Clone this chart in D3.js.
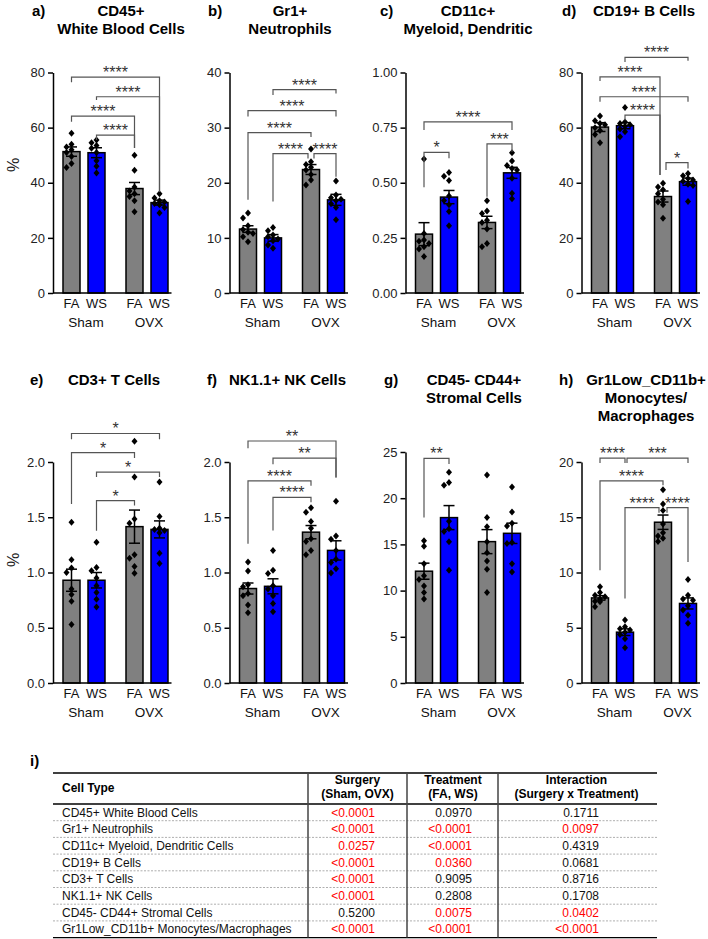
<!DOCTYPE html>
<html><head><meta charset="utf-8">
<script src="https://cdn.jsdelivr.net/npm/d3@7"></script>
<style>
body{margin:0;background:#fff}
svg{display:block}
text{font-family:"Liberation Sans",Arial,Helvetica,sans-serif}
</style>
</head><body><svg id="c" width="708" height="939"></svg>
<script>
// ---------------- DATA ----------------
const panelLabels = ["a)","b)","c)","d)","e)","f)","g)","h)"];
const panelTitles = [["CD45+","White Blood Cells"],["Gr1+","Neutrophils"],["CD11c+","Myeloid, Dendritic"],["CD19+ B Cells"],
                     ["CD3+ T Cells"],["NK1.1+ NK Cells"],["CD45- CD44+","Stromal Cells"],["Gr1Low_CD11b+","Monocytes/","Macrophages"]];
const treatments = ["FA","WS","FA","WS"];
const surgeries = ["Sham","OVX"];
const yMax = [80,40,1,80,2,2,25,20];
const yTicks = [[0,20,40,60,80],[0,10,20,30,40],[0,0.25,0.5,0.75,1],[0,20,40,60,80],
                [0,0.5,1,1.5,2],[0,0.5,1,1.5,2],[0,5,10,15,20,25],[0,5,10,15,20]];
const tickFormats = ["d","d",".2f","d",".1f",".1f","d","d"];

const means = [[51.3,50.9,37.9,32.8],[11.6,10.0,22.4,16.9],[0.267,0.435,0.32,0.545],[60.2,60.7,35.0,40.4],
               [0.93,0.93,1.415,1.39],[0.855,0.875,1.365,1.2],[12.1,17.9,15.3,16.2],[7.7,4.6,14.55,7.2]];
const sems  = [[1.7,1.8,2.2,0.9],[0.6,0.6,0.9,1.0],[0.052,0.03,0.028,0.025],[1.6,1.1,2.0,1.3],
               [0.1,0.07,0.15,0.077],[0.05,0.068,0.06,0.087],[0.87,1.3,1.3,1.1],[0.2,0.3,0.65,0.5]];

const cd45Points = [[58,54,53,52,51,49.5,47,45.5],[55.5,54.5,53.5,52.5,51,48,46,43.5],[50,44.5,38.5,37,36,35,33.5,29.5],[36,34.5,33.5,33,32.5,32,31,29]];
const gr1Points = [[14.5,13.6,12.2,11.5,11,10.8,10.2,9.3],[11.9,11.3,10.5,10.2,9.8,9.5,8.7,8.1],[26.1,23.8,23.3,22.8,22.3,21.5,20.5,19.6],[20.3,17.8,17.3,17,16.8,16.2,15.5,13.3]];
const cd11cPoints = [[0.608,0.27,0.24,0.235,0.225,0.21,0.2,0.165],[0.547,0.53,0.51,0.44,0.42,0.4,0.37,0.305],[0.418,0.372,0.36,0.33,0.32,0.29,0.225,0.21],[0.636,0.599,0.578,0.565,0.558,0.52,0.452,0.427]];
const cd19Points = [[64.2,62.5,61.5,61,60,59,57.5,54.5],[67.3,62,61.5,61,60.5,59.5,58.5,56.7],[39.8,38.5,37.5,36,34,33,32,27.1],[43.4,42.5,41.5,41,40.5,39.5,39,33.2]];
const cd3Points = [[1.455,1.115,1.04,1.0,0.85,0.8,0.74,0.53],[1.273,1.045,1.015,0.95,0.88,0.82,0.757,0.687],[2.187,1.864,1.485,1.445,1.16,1.13,1.055,0.994],[1.818,1.506,1.4,1.39,1.38,1.36,1.175,1.082]];
const nkPoints = [[1.095,1.014,0.89,0.87,0.81,0.79,0.705,0.635],[1.2,1.02,0.99,0.88,0.85,0.79,0.72,0.644],[1.585,1.545,1.461,1.4,1.305,1.28,1.2,1.161],[1.644,1.33,1.3,1.2,1.12,1.09,1.035,0.995]];
const stromalPoints = [[15.4,14.8,12.9,11.6,11.2,10.5,9.8,9.08],[22.8,21.7,21.4,17.5,16.7,16.4,15.3,12.2],[22.5,17.9,16.9,15.3,14.1,13.2,12.3,9.8],[21.2,18.5,17.3,17,15.2,15.1,12.9,12]];
const monoPoints = [[8.7,8.2,7.95,7.8,7.6,7.4,7.35,6.9],[5.7,5.1,4.9,4.8,4.6,4.4,4.0,3.2],[17.5,16.2,15.6,14.4,13.6,13.3,13.1,12.8],[9.37,7.95,7.6,7.5,7.0,6.6,6.14,5.4]];
const allPoints = [cd45Points,gr1Points,cd11cPoints,cd19Points,cd3Points,nkPoints,stromalPoints,monoPoints];

// brackets: [from, to, level, leg end at from, leg end at to, stars, nudge from, nudge to]
const brackets = [
 [[0,3,78.3,76.5,36.7,"****"],[1,3,71.2,70.0,36.7,"****"],[0,2,64.2,62.1,52.6,"****"],[1,2,57.3,55.5,52.6,"****"]],
 [[1,3,36.9,35.9,36.2,"****"],[0,3,33.1,32.0,32.0,"****"],[0,2,29.1,16.9,28.3,"****"],[1,2,25.3,16.6,24.4,"****",0,-3],[2,3,25.3,24.4,21.1,"****",3,0]],
 [[0,3,0.776,0.739,0.739,"****"],[0,1,0.638,0.48,0.611,"*"],[2,3,0.676,0.437,0.641,"***"]],
 [[1,3,85.5,83.8,84.3,"****"],[0,2,78.4,76.9,42.8,"****",0,-3],[0,3,71.2,69.4,69.4,"****"],[1,2,64.5,62.7,42.8,"****",0,-3],[2,3,47.3,44.6,45.2,"*",3,0]],
 [[0,3,2.258,2.205,2.205,"*"],[0,2,2.085,1.62,2.036,"*"],[1,3,1.909,1.864,1.864,"*"],[1,2,1.65,1.378,1.606,"*"]],
 [[0,3,2.19,2.125,1.86,"**"],[1,3,2.035,1.98,1.86,"**"],[0,2,1.83,1.26,1.786,"****"],[1,2,1.68,1.38,1.635,"****"]],
 [[0,1,24.3,17.9,23.7,"**"]],
 [[0,1,20.35,19.9,19.9,"****"],[1,3,20.35,19.9,19.9,"***",2,0],[0,2,18.3,10.2,17.9,"****"],[1,2,15.87,7.65,15.4,"****",0,-4],[2,3,15.87,15.4,10.96,"****",4,0]]
];

const tableLabel = "i)";
const tableHeaders = [["Cell Type"],["Surgery","(Sham, OVX)"],["Treatment","(FA, WS)"],["Interaction","(Surgery x Treatment)"]];
const cellTypes = ["CD45+ White Blood Cells","Gr1+ Neutrophils","CD11c+ Myeloid, Dendritic Cells","CD19+ B Cells","CD3+ T Cells","NK1.1+ NK Cells","CD45- CD44+ Stromal Cells","Gr1Low_CD11b+ Monocytes/Macrophages"];
const surgeryP = ["<0.0001","<0.0001","0.0257","<0.0001","<0.0001","<0.0001","0.5200","<0.0001"];
const treatmentP = ["0.0970","<0.0001","<0.0001","0.0360","0.9095","0.2808","0.0075","<0.0001"];
const interactionP = ["0.1711","0.0097","0.4319","0.0681","0.8716","0.1708","0.0402","<0.0001"];

// ---------------- LAYOUT ----------------
const svg = d3.select("#c");
const axisX = [53, 229.5, 405.5, 581.5];
const rows = [{zero:293, top:72.5, titleY:16, xl:308, sl:327, pct:165},
              {zero:683, top:462, titleY:385, xl:698, sl:717, pct:560}];
const titleDx = [68, 60.5, 62.5, 62.5, 61, 58, 68.5, 64.5];
const labelX = [32, 208, 380, 562, 30, 207, 384, 559];
const groupPos = [0, 1, 2.52, 3.52];
const colors = ["#808080","#0000ff","#808080","#0000ff"];
const diamond = "M0,-3.5L3,0L0,3.5L-3,0Z";

function swarm(vals, y) {
  const placed = [];
  return vals.map(v => {
    const py = y(v);
    const cands = [0,-5,5,-9,9];
    let dx = 0;
    for (const c of cands) {
      if (!placed.some(p => Math.abs(p.y-py) < 5 && Math.abs(p.x-c) < 5)) { dx = c; break; }
    }
    placed.push({x:dx, y:py});
    return {v, dx};
  });
}

for (let p = 0; p < 8; p++) {
  const col = p % 4, r = rows[Math.floor(p/4)];
  const x0 = axisX[col];
  const g = svg.append("g");
  const y = d3.scaleLinear().domain([0, yMax[p]]).range([r.zero, p === 6 ? 452 : r.top]);
  const x = d3.scaleLinear().domain([0, 3.52]).range([x0 + 18.5, x0 + 106.5]);

  // y axis
  const ax = g.append("g").attr("transform", `translate(${x0},0)`)
    .call(d3.axisLeft(y).tickValues(yTicks[p]).tickSize(5).tickSizeOuter(0).tickPadding(3).tickFormat(d3.format(tickFormats[p])));
  ax.select(".domain").attr("stroke","#000").attr("stroke-width",1.5);
  ax.selectAll(".tick line").attr("stroke","#000").attr("stroke-width",1.5);
  ax.selectAll(".tick text").attr("fill","#222").style("font-size","13px").style("font-family","Liberation Sans, Arial, sans-serif");

  // bars
  g.selectAll("rect.bar").data(means[p]).join("rect")
    .attr("x",(d,i)=>x(groupPos[i])-8.5).attr("width",17)
    .attr("y",d=>y(d)).attr("height",d=>y(0)-y(d))
    .attr("fill",(d,i)=>colors[i]).attr("stroke","#000").attr("stroke-width",1.5);

  // points
  allPoints[p].forEach((vals,i) => {
    swarm(vals, y).forEach(pt => {
      g.append("path").attr("d",diamond)
        .attr("transform",`translate(${x(groupPos[i])+pt.dx},${y(pt.v)})`).attr("fill","#000");
    });
  });

  // error bars
  means[p].forEach((m,i) => {
    const cx = x(groupPos[i]), s = sems[p][i];
    const eg = g.append("g").attr("stroke","#000").attr("stroke-width",1.5);
    eg.append("line").attr("x1",cx).attr("x2",cx).attr("y1",y(m-s)).attr("y2",y(m+s));
    eg.append("line").attr("x1",cx-5.5).attr("x2",cx+5.5).attr("y1",y(m-s)).attr("y2",y(m-s));
    eg.append("line").attr("x1",cx-5.5).attr("x2",cx+5.5).attr("y1",y(m+s)).attr("y2",y(m+s));
  });

  // x axis baseline
  g.append("line").attr("x1",x0).attr("x2",x(groupPos[3])+12).attr("y1",y(0)).attr("y2",y(0))
    .attr("stroke","#000").attr("stroke-width",1.5);

  // x labels
  treatments.forEach((t,i) => {
    g.append("text").attr("x",x(groupPos[i])).attr("y",r.xl).attr("text-anchor","middle")
      .style("font-size","13px").attr("fill","#111").text(t);
  });
  surgeries.forEach((s,k) => {
    g.append("text").attr("x",(x(groupPos[2*k])+x(groupPos[2*k+1]))/2+2).attr("y",r.sl).attr("text-anchor","middle")
      .style("font-size","13.5px").attr("fill","#111").text(s);
  });

  // brackets
  brackets[p].forEach(b => {
    const [i,j,lvl,la,lb,stars,na=0,nb=0] = b;
    const xa = x(groupPos[i]) + na, xb = x(groupPos[j]) + nb;
    g.append("path").attr("d",`M${xa},${y(la)}V${y(lvl)}H${xb}V${y(lb)}`)
      .attr("fill","none").attr("stroke","#555").attr("stroke-width",1.2);
    g.append("text").attr("x",(xa+xb)/2).attr("y",y(lvl)+1).attr("text-anchor","middle")
      .style("font-size","16px").attr("fill","#333").text(stars);
  });

  // titles
  const t = g.append("text").attr("x",x0+titleDx[p]).attr("y",r.titleY).attr("text-anchor","middle")
    .style("font-size","15px").style("font-weight","bold").attr("fill","#000");
  panelTitles[p].forEach((line,k)=> t.append("tspan").attr("x",x0+titleDx[p]).attr("dy",k?18:0).text(line));
  g.append("text").attr("x",labelX[p]).attr("y",r.titleY).style("font-size","15px").style("font-weight","bold").text(panelLabels[p]);

  if (col === 0) {
    g.append("text").attr("transform",`translate(19,${r.pct}) rotate(-90)`).attr("text-anchor","middle")
      .style("font-size","16px").attr("fill","#222").text("%");
  }
}

// ---------------- TABLE ----------------
const T = {left:53, right:657, top:773, head:804, rowH:16.7, cols:[308,407,498], valRight:[375,472,599], textX:62};
const tg = svg.append("g");
tg.append("text").attr("x",30).attr("y",766).style("font-size","15px").style("font-weight","bold").text(tableLabel);
const bottom = T.head + 8*T.rowH;
tg.append("line").attr("x1",T.left).attr("x2",T.right).attr("y1",T.top).attr("y2",T.top).attr("stroke","#000").attr("stroke-width",1.3);
tg.append("line").attr("x1",T.left).attr("x2",T.right).attr("y1",T.head).attr("y2",T.head).attr("stroke","#000").attr("stroke-width",1.3);
tg.append("line").attr("x1",T.left).attr("x2",T.right).attr("y1",bottom).attr("y2",bottom).attr("stroke","#000").attr("stroke-width",1.3);
for (let k=1;k<8;k++){
  const yy = T.head + k*T.rowH;
  tg.append("line").attr("x1",T.left).attr("x2",T.right).attr("y1",yy).attr("y2",yy)
    .attr("stroke","#999").attr("stroke-width",0.8).attr("stroke-dasharray","2,1.5");
}
T.cols.forEach(cx => tg.append("line").attr("x1",cx).attr("x2",cx).attr("y1",T.top).attr("y2",bottom).attr("stroke","#444").attr("stroke-width",1.5));

// headers
tg.append("text").attr("x",T.textX).attr("y",792).style("font-size","12px").style("font-weight","bold").text(tableHeaders[0][0]);
const colCenters = [(T.cols[0]+T.cols[1])/2, (T.cols[1]+T.cols[2])/2+0.5, (T.cols[2]+T.right)/2-1];
[1,2,3].forEach(h => {
  tableHeaders[h].forEach((line,k) => {
    tg.append("text").attr("x",colCenters[h-1]).attr("y",784+k*14).attr("text-anchor","middle")
      .style("font-size","12px").style("font-weight","bold").text(line);
  });
});
const pCols = [surgeryP, treatmentP, interactionP];
const isSig = s => s.startsWith("<") || parseFloat(s) < 0.05;
cellTypes.forEach((c,k) => {
  const by = T.head + k*T.rowH + 12.5;
  tg.append("text").attr("x",T.textX).attr("y",by).style("font-size","12px").attr("fill","#111").text(c);
  pCols.forEach((arr,ci) => {
    tg.append("text").attr("x",T.valRight[ci]).attr("y",by).attr("text-anchor","end")
      .style("font-size","12px").attr("fill", isSig(arr[k]) ? "#ff0000" : "#111").text(arr[k]);
  });
});
</script></body></html>
